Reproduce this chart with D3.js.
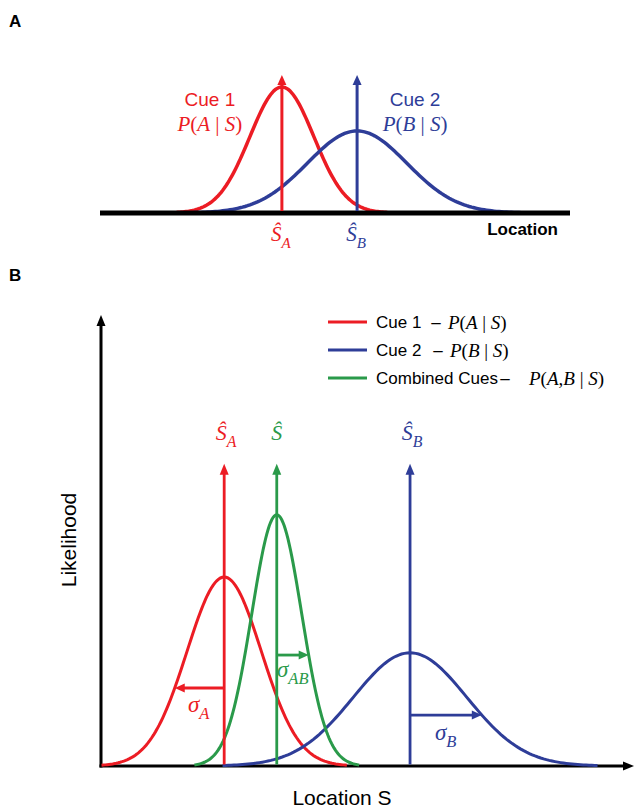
<!DOCTYPE html>
<meta charset="utf-8">
<style>
body { margin: 0; background: #fff; }
text { font-family: "Liberation Sans", Arial, sans-serif; }
.math { font-family: "Liberation Serif", "Times New Roman", serif; }
</style>
<body>
<div id="content"></div>
<script src="https://cdn.jsdelivr.net/npm/d3@7"></script>
<script>
var width = 636, height = 809;

// colours: cue 1, cue 2, combined
var colors = ["#ec1c24", "#2e3d98", "#2a9a4a"];

// panel A: two cues, location units 0-100, likelihood units 0-100
var cueNamesA = ["Cue 1", "Cue 2"];
var meanA = [38.7, 54.7];
var sdA = [6.8, 10.6];
var peakA = [84, 54.7];
var estTipA = 92;

// panel B: cue 1, cue 2, combined
var legendNames = ["Cue 1", "Cue 2", "Combined Cues"];
var meanB = [23.2, 58.2, 33.1];
var sdB = [7.0, 10.7, 4.7];
var peakB = [41.9, 25.1, 55.7];
var estTipB = 67;
var sigmaLevel = [17.3, 11.3, 24.6];   // height of the sigma arrows
var sigmaDir = [-1, 1, 1];

var svg = d3.select("#content").append("svg")
    .attr("width", width)
    .attr("height", height);

// gaussian samples from the read parameters
function curve(mu, sd, peak) {
  return d3.range(-3.3, 3.301, 0.05).map(z => [mu + z * sd, peak * Math.exp(-0.5 * z * z)]);
}

function arrow(g, x1, y1, x2, y2, color, w, len, half) {
  var dx = x2 - x1, dy = y2 - y1, d = Math.sqrt(dx * dx + dy * dy);
  var ux = dx / d, uy = dy / d;
  g.append("line")
    .attr("x1", x1).attr("y1", y1)
    .attr("x2", x2 - ux * (len - 2)).attr("y2", y2 - uy * (len - 2))
    .style("stroke", color).style("stroke-width", w);
  var bx = x2 - ux * len, by = y2 - uy * len;
  g.append("path")
    .attr("d", "M" + x2 + "," + y2 +
      "L" + (bx - uy * half) + "," + (by + ux * half) +
      "L" + (bx + uy * half) + "," + (by - ux * half) + "Z")
    .style("fill", color);
}

// parts: [text, italic, subscript]
function mathText(g, x, y, parts, size, color, anchor) {
  var t = g.append("text").attr("class", "math")
    .attr("x", x).attr("y", y)
    .attr("text-anchor", anchor || "start")
    .style("font-size", size + "px")
    .style("fill", color)
    .attr("xml:space", "preserve");
  parts.forEach(p => {
    var s = t.append("tspan").text(p[0])
      .style("font-style", p[1] ? "italic" : "normal");
    if (p[2]) s.attr("dy", size * 0.32).style("font-size", (size * 0.72) + "px");
  });
  return t;
}

function condProb(a) {
  var parts = [["P", 1], ["(", 0]];
  a.forEach((v, i) => { if (i) parts.push([",", 0]); parts.push([v, 1]); });
  parts.push([" | ", 0], ["S", 1], [")", 0]);
  return parts;
}

// ---------- panel A ----------
var gA = svg.append("g");
var xA = d3.scaleLinear().domain([0, 100]).range([100, 570]);
var yA = d3.scaleLinear().domain([0, 100]).range([213, 63]);
var lineA = d3.line().x(d => xA(d[0])).y(d => yA(d[1]));

gA.append("text").attr("x", 9).attr("y", 27)
  .style("font-size", "17px").style("font-weight", "bold").text("A");

meanA.forEach((m, i) => {
  gA.append("path")
    .attr("d", lineA(curve(m, sdA[i], peakA[i])))
    .style("fill", "none")
    .style("stroke", colors[i])
    .style("stroke-width", 3.5);
});

gA.append("line")
  .attr("x1", xA(0)).attr("x2", xA(100))
  .attr("y1", yA(0)).attr("y2", yA(0))
  .style("stroke", "#000").style("stroke-width", 5);

meanA.forEach((m, i) => {
  arrow(gA, xA(m), yA(0) - 2, xA(m), yA(estTipA), colors[i], 3, 10, 4.5);
});

// cue labels
var labelOffA = [-72, 58];
cueNamesA.forEach((n, i) => {
  var cx = xA(meanA[i]) + labelOffA[i];
  gA.append("text").attr("x", cx).attr("y", 106)
    .attr("text-anchor", "middle")
    .style("font-size", "19px").style("fill", colors[i]).text(n);
  mathText(gA, cx, 131, condProb([["A", "B"][i]]), 21, colors[i], "middle");
});

// estimate labels under the axis
meanA.forEach((m, i) => {
  mathText(gA, xA(m) - 1, 241, [["\u015C", 1], [["A", "B"][i], 1, 1]], 21, colors[i], "middle");
});

gA.append("text").attr("x", 558).attr("y", 235)
  .attr("text-anchor", "end")
  .style("font-size", "17px").style("font-weight", "bold").text("Location");

// ---------- panel B ----------
var gB = svg.append("g");
var xB = d3.scaleLinear().domain([0, 100]).range([101, 632]);
var yB = d3.scaleLinear().domain([0, 100]).range([766, 315]);
var lineB = d3.line().x(d => xB(d[0])).y(d => yB(d[1]));

gB.append("text").attr("x", 9).attr("y", 281)
  .style("font-size", "17px").style("font-weight", "bold").text("B");

// axes with arrow heads
arrow(gB, xB(0), yB(0) + 1.5, xB(0), yB(100), "#000", 3, 11, 4.5);
arrow(gB, xB(0) - 1.5, yB(0), xB(100) + 2, yB(0), "#000", 3, 11, 4.5);

gB.append("text")
  .attr("transform", "translate(" + 76 + "," + 540 + ") rotate(-90)")
  .attr("text-anchor", "middle")
  .style("font-size", "21px").text("Likelihood");
gB.append("text").attr("x", 342).attr("y", 805)
  .attr("text-anchor", "middle")
  .style("font-size", "21px").text("Location S");

meanB.forEach((m, i) => {
  gB.append("path")
    .attr("d", lineB(curve(m, sdB[i], peakB[i])))
    .style("fill", "none")
    .style("stroke", colors[i])
    .style("stroke-width", 3);
});

meanB.forEach((m, i) => {
  arrow(gB, xB(m), yB(0) - 1.5, xB(m), yB(estTipB), colors[i], 2.8, 11, 4.5);
});

// sigma arrows end where the curve meets them
meanB.forEach((m, i) => {
  var h = sigmaLevel[i];
  var dz = Math.sqrt(2 * Math.log(peakB[i] / h));
  var xe = m + sigmaDir[i] * dz * sdB[i];
  arrow(gB, xB(m), yB(h), xB(xe), yB(h), colors[i], 2.8, 10, 4.5);
});

// sigma labels
var sigmaSub = ["A", "B", "AB"];
var sigmaPos = [[188, 712], [435, 740], [277, 677]];
sigmaSub.forEach((s, i) => {
  mathText(gB, sigmaPos[i][0], sigmaPos[i][1], [["\u03C3", 1], [s, 1, 1]], 23, colors[i]);
});

// estimate labels above the arrows
var estSub = ["A", "B", ""];
meanB.forEach((m, i) => {
  var parts = [["\u015C", 1]];
  if (estSub[i]) parts.push([estSub[i], 1, 1]);
  mathText(gB, xB(m) + (estSub[i] ? 2 : 0), 440, parts, 22, colors[i], "middle");
});

// legend
var legendY = [322, 350, 378];
var legendMath = [condProb(["A"]), condProb(["B"]), condProb(["A", "B"])];
var legendDashX = [436, 438, 505];
var legendMathX = [448, 450, 529];
legendNames.forEach((n, i) => {
  gB.append("line")
    .attr("x1", 328).attr("x2", 367)
    .attr("y1", legendY[i]).attr("y2", legendY[i])
    .style("stroke", colors[i]).style("stroke-width", 3);
  gB.append("text").attr("x", 376).attr("y", legendY[i] + 6)
    .style("font-size", "17px").text(n);
  gB.append("text").attr("x", legendDashX[i]).attr("y", legendY[i] + 6)
    .attr("text-anchor", "middle")
    .style("font-size", "17px").text("\u2013");
  mathText(gB, legendMathX[i], legendY[i] + 7, legendMath[i], 19, "#000");
});
</script>
</body>
